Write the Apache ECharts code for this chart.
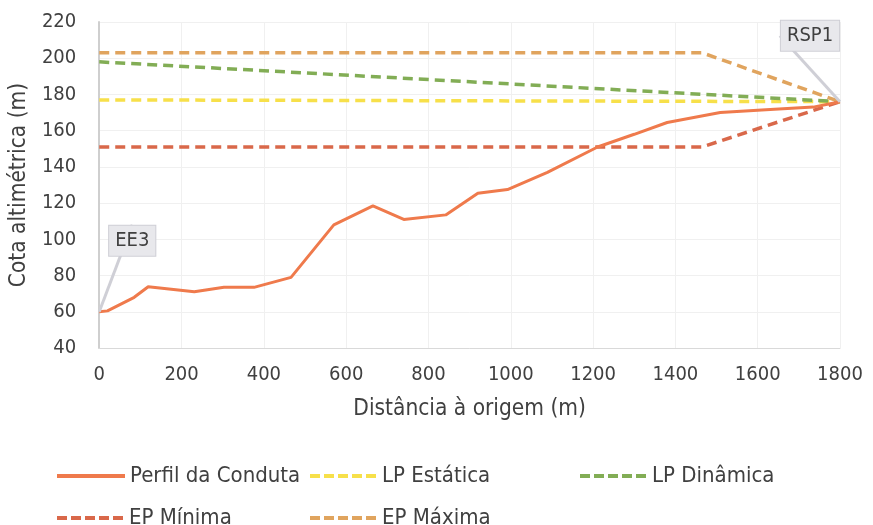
<!DOCTYPE html>
<html>
<head>
<meta charset="utf-8">
<script src="https://cdn.jsdelivr.net/npm/echarts@6/dist/echarts.min.js"></script>
<style>html,body{margin:0;padding:0;background:#fff}#c{width:873px;height:525px}</style>
</head>
<body>
<div id="c"></div>
<script>
const xTicks = [0, 200, 400, 600, 800, 1000, 1200, 1400, 1600, 1800];
const yTicks = [40, 60, 80, 100, 120, 140, 160, 180, 200, 220];
const perfilX = [0, 20, 85, 119, 231, 303, 376, 466, 570, 665, 740, 842, 920, 992, 1089, 1211, 1300, 1380, 1509, 1620, 1735, 1800];
const perfilY = [60, 60.5, 68, 73.8, 71, 73.5, 73.5, 79, 108, 118.5, 111, 113.5, 125.5, 127.5, 137, 151, 158, 164.5, 170, 171.5, 173, 176];
const lpEstaticaX = [0, 1800];
const lpEstaticaY = [177, 176];
const lpDinamicaX = [0, 1800];
const lpDinamicaY = [198, 176];
const epMinimaX = [0, 1465, 1800];
const epMinimaY = [151, 151, 176];
const epMaximaX = [0, 1465, 1800];
const epMaximaY = [203, 203, 176];
const names = ['Perfil da Conduta', 'LP Estática', 'LP Dinâmica', 'EP Mínima', 'EP Máxima'];
const colors = ['#ef7a4c', '#f7e04a', '#82ad55', '#d9684a', '#e0a45e'];
const annotations = ['EE3', 'RSP1'];

const FONT = '"DejaVu Sans Condensed", "Liberation Sans Narrow", "Open Sans", sans-serif';
const TXT = '#404040';
const zip = (xs, ys) => xs.map((x, i) => [x, ys[i]]);
const lastIdx = perfilX.length - 1;

const perfilData = zip(perfilX, perfilY).map((p, i) => {
  const base = { value: p };
  if (i === 0) return Object.assign(base, { label: { show: true, formatter: annotations[0] } });
  if (i === lastIdx) return Object.assign(base, { label: { show: true, formatter: annotations[1] } });
  return base;
});

const dashed = [10, 6];
function lineSeries(idx, data, type, extra) {
  return Object.assign({
    name: names[idx],
    type: 'line',
    data: data,
    showSymbol: false,
    symbol: 'none',
    color: colors[idx],
    lineStyle: { color: colors[idx], width: 3.5, type: type },
    z: 2 + idx
  }, extra || {});
}

const series = [
  lineSeries(3, zip(epMinimaX, epMinimaY), dashed),
  lineSeries(4, zip(epMaximaX, epMaximaY), dashed),
  lineSeries(1, zip(lpEstaticaX, lpEstaticaY), dashed),
  lineSeries(2, zip(lpDinamicaX, lpDinamicaY), dashed),
  lineSeries(0, perfilData, 'solid', {
    z: 10,
    symbol: 'circle',
    symbolSize: 0,
    showSymbol: true,
    lineStyle: { color: colors[0], width: 3, type: 'solid' },
    label: {
      position: 'inside',
      fontFamily: FONT, fontSize: 20, color: '#404040',
      backgroundColor: '#e8e8ec', borderColor: '#cfcfd6', borderWidth: 1,
      padding: [6, 6, 4, 6]
    },
    labelLine: { show: true, lineStyle: { color: '#cfcfd6', width: 3 } },
    labelLayout: function (params) {
      if (params.dataIndex === 0) return { dx: 33, dy: -71 };
      if (params.dataIndex === lastIdx) return { dx: -30, dy: -66 };
      return {};
    }
  })
];

const solidIcon = 'path://M0,0h68v4h-68z';
const dashIcon = 'path://M0,0h10v4h-10z M14,0h10v4h-10z M28,0h10v4h-10z M42,0h10v4h-10z M56,0h10v4h-10z';
const legendPos = [
  { left: 52, top: 460 },
  { left: 305, top: 460 },
  { left: 575, top: 460 },
  { left: 52, top: 502 },
  { left: 305, top: 502 }
];
const legends = names.map((n, i) => ({
  data: [n],
  left: legendPos[i].left, top: legendPos[i].top,
  itemWidth: 68, itemHeight: 4, itemGap: 4,
  icon: i === 0 ? solidIcon : dashIcon,
  textStyle: { fontFamily: FONT, fontSize: 22, color: TXT },
  selectedMode: false
}));

const chart = echarts.init(document.getElementById('c'), null, { renderer: 'canvas' });
chart.setOption({
  animation: false,
  backgroundColor: '#ffffff',
  legend: legends,
  grid: { left: 98, right: 33, top: 22, bottom: 177, containLabel: false },
  xAxis: {
    type: 'value', min: xTicks[0], max: xTicks[xTicks.length - 1], interval: 200,
    name: 'Distância à origem (m)', nameLocation: 'middle', nameGap: 50,
    nameTextStyle: { fontFamily: FONT, fontSize: 22.5, color: TXT },
    axisLine: { show: true, lineStyle: { color: '#d9d9d9', width: 1 } },
    axisTick: { show: false },
    axisLabel: { fontFamily: FONT, fontSize: 20, color: TXT, margin: 17, formatter: v => String(v) },
    splitLine: { show: true, lineStyle: { color: '#f0f0f0' } }
  },
  yAxis: {
    type: 'value', min: yTicks[0], max: yTicks[yTicks.length - 1], interval: 20,
    name: 'Cota altimétrica (m)', nameLocation: 'middle', nameGap: 66, nameRotate: 90,
    nameTextStyle: { fontFamily: FONT, fontSize: 22.5, color: TXT },
    axisLine: { show: true, lineStyle: { color: '#cfcfcf', width: 2 } },
    axisTick: { show: false },
    axisLabel: { fontFamily: FONT, fontSize: 20, color: TXT, margin: 23, formatter: v => String(v) },
    splitLine: { show: true, lineStyle: { color: '#f0f0f0' } }
  },
  series: series
});
</script>
</body>
</html>
